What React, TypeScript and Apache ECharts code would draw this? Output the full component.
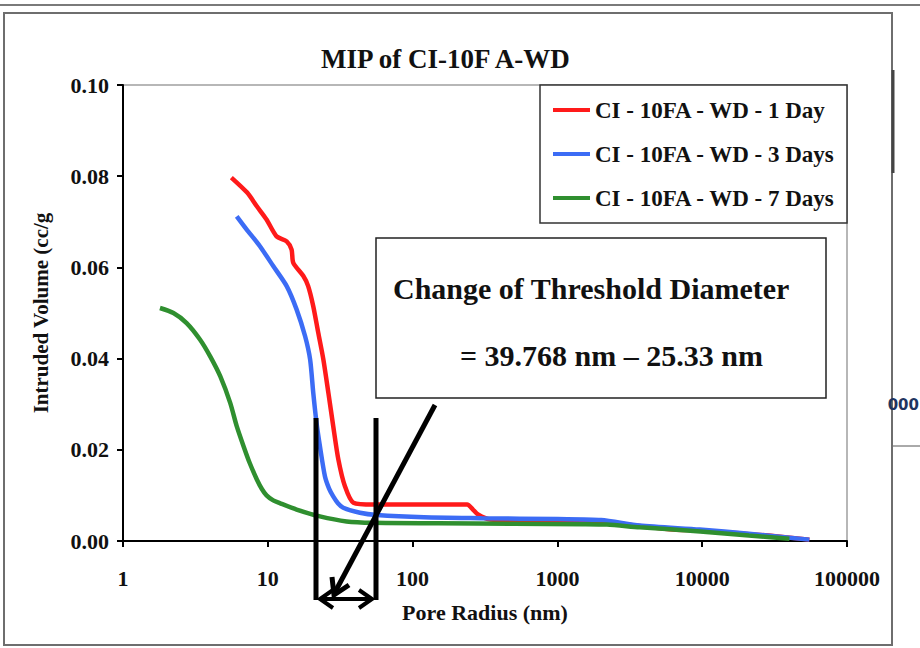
import React, { useEffect, useRef } from "react";
import * as echarts from "echarts";

const titleText = "MIP of CI-10F A-WD";
const xAxisName = "Pore Radius (nm)";
const yAxisName = "Intruded Volume (cc/g";
const seriesNames = ["CI - 10FA - WD - 1 Day", "CI - 10FA - WD - 3 Days", "CI - 10FA - WD - 7 Days"];
const seriesColors = ["#ff1a1a", "#3c6cf5", "#2f8f2f"];
const annotationLines = ["Change of Threshold Diameter", "= 39.768 nm \u2013 25.33 nm"];

const day1Radius = [5.6, 7.2, 8.4, 9.8, 11.5, 13.5, 14.6, 15.0, 17.6, 19.0, 20.6, 22.3, 24.2, 26.2, 28.3, 30.7, 34.1, 39.0, 53.5, 120, 238, 261, 283, 343, 600, 1000, 2000, 3700, 6300, 9700, 21000, 31000, 55000];
const day1Volume = [0.0797, 0.0764, 0.0734, 0.0705, 0.0668, 0.0657, 0.0639, 0.0610, 0.0581, 0.0559, 0.0515, 0.0457, 0.0398, 0.0325, 0.0252, 0.0179, 0.0120, 0.0084, 0.0080, 0.0080, 0.0080, 0.0069, 0.0058, 0.0047, 0.0045, 0.0043, 0.0042, 0.0033, 0.0025, 0.0023, 0.0015, 0.0011, 0.0003];

const day3Radius = [6.1, 7.15, 8.8, 10.9, 13.5, 15.8, 18.1, 19.6, 20.6, 21.7, 22.9, 24.8, 26.5, 28.3, 30.5, 33.2, 43.3, 56.5, 120, 300, 1000, 2000, 3700, 9600, 21000, 55000];
const day3Volume = [0.0712, 0.0683, 0.0647, 0.0603, 0.0559, 0.0508, 0.0449, 0.0398, 0.0325, 0.0259, 0.0208, 0.0142, 0.0115, 0.0098, 0.0083, 0.0073, 0.0062, 0.0057, 0.0052, 0.0050, 0.0048, 0.0046, 0.0034, 0.0025, 0.0016, 0.0003];

const day7Radius = [1.8, 2.23, 2.75, 3.4, 4.0, 4.7, 5.5, 6.1, 6.8, 7.5, 8.4, 9.1, 9.8, 10.9, 12.1, 15.8, 22.9, 35, 53.5, 150, 500, 1500, 2200, 3700, 9700, 21000, 40000];
const day7Volume = [0.0511, 0.0500, 0.0478, 0.0442, 0.0405, 0.0361, 0.0303, 0.0252, 0.0208, 0.0171, 0.0135, 0.0114, 0.0100, 0.0089, 0.0083, 0.0069, 0.0054, 0.0043, 0.0040, 0.0039, 0.0038, 0.0037, 0.0036, 0.0030, 0.0021, 0.0012, 0.0005];

const SERIF = "'Liberation Serif', 'Times New Roman', serif";

function pairs(xs: number[], ys: number[]) {
  return xs.map((x, i) => [x, ys[i]]);
}

export default function App() {
  const ref = useRef<HTMLDivElement>(null);
  useEffect(() => {
    if (!ref.current) return;
    const chart = echarts.init(ref.current, undefined, { renderer: "svg" });
    const radii = [day1Radius, day3Radius, day7Radius];
    const vols = [day1Volume, day3Volume, day7Volume];
    const black = "#000";
    const option: any = {
      animation: false,
      backgroundColor: "#fff",
      title: {
        text: titleText,
        left: 316,
        top: 40,
        textStyle: { fontFamily: SERIF, fontWeight: "bold", fontSize: 27, color: "#111" },
      },
      grid: {
        left: 123,
        top: 85,
        right: 73,
        bottom: 107,
        show: true,
        borderColor: "#a0a0a0",
        borderWidth: 1.5,
        backgroundColor: "transparent",
      },
      legend: {
        orient: "vertical",
        left: 553,
        top: 98,
        padding: 0,
        icon: "rect",
        itemWidth: 37,
        itemHeight: 4,
        itemGap: 20,
        textStyle: { fontFamily: SERIF, fontWeight: "bold", fontSize: 23, lineHeight: 24, color: "#111" },
        data: seriesNames,
      },
      xAxis: {
        type: "log",
        logBase: 10,
        min: 1,
        max: 100000,
        name: xAxisName,
        nameLocation: "middle",
        nameGap: 60,
        nameTextStyle: { fontFamily: SERIF, fontWeight: "bold", fontSize: 22, color: "#111" },
        axisLine: { lineStyle: { color: black, width: 2 } },
        axisTick: { show: true, inside: false, length: 6, lineStyle: { color: black, width: 2 } },
        axisLabel: {
          margin: 26,
          fontFamily: SERIF,
          fontWeight: "bold",
          fontSize: 22,
          color: "#111",
          formatter: (v: number) => String(Math.round(v)),
        },
        splitLine: { show: false },
        minorTick: { show: false },
      },
      yAxis: {
        type: "value",
        min: 0,
        max: 0.1,
        interval: 0.02,
        name: yAxisName,
        nameLocation: "middle",
        nameGap: 72,
        nameRotate: 90,
        nameTextStyle: { fontFamily: SERIF, fontWeight: "bold", fontSize: 21, color: "#111" },
        axisLine: { show: true, lineStyle: { color: black, width: 2 } },
        axisTick: { show: true, inside: false, length: 6, lineStyle: { color: black, width: 2 } },
        axisLabel: {
          margin: 14,
          fontFamily: SERIF,
          fontWeight: "bold",
          fontSize: 22,
          color: "#111",
          formatter: (v: number) => v.toFixed(2),
        },
        splitLine: { show: false },
      },
      series: seriesNames.map((name, i) => ({
        name,
        type: "line",
        data: pairs(radii[i], vols[i]),
        symbol: "none",
        showSymbol: false,
        smooth: 0.25,
        color: seriesColors[i],
        itemStyle: { color: seriesColors[i] },
        lineStyle: { color: seriesColors[i], width: 4.5 },
        z: 2 + i,
      })),
      graphic: [
        { type: "line", shape: { x1: 0, y1: 5, x2: 920, y2: 5 }, style: { stroke: "#7a7a7a", lineWidth: 2 }, z: 0 },
        { type: "rect", shape: { x: 4, y: 13, width: 888, height: 632 }, style: { stroke: "#6e6e6e", lineWidth: 2, fill: "none" }, z: 0 },
        { type: "line", shape: { x1: 893, y1: 70, x2: 893, y2: 173 }, style: { stroke: "#444", lineWidth: 3 }, z: 0 },
        { type: "line", shape: { x1: 893, y1: 446, x2: 920, y2: 446 }, style: { stroke: "#555", lineWidth: 1 }, z: 0 },
        { type: "text", x: 919, y: 405, style: { text: "000", font: "bold 15px 'DejaVu Sans', sans-serif", fill: "#1f3560", align: "right", verticalAlign: "middle" }, z: 0 },
        { type: "rect", shape: { x: 540, y: 85, width: 307, height: 138 }, style: { stroke: "#333", lineWidth: 1.5, fill: "#fff" }, z: 1 },
        { type: "rect", shape: { x: 376, y: 238, width: 450, height: 160 }, style: { stroke: "#222", lineWidth: 1.5, fill: "#fff" }, z: 1 },
        { type: "text", x: 393, y: 288, style: { text: annotationLines[0], font: `bold 30px ${SERIF}`, fill: "#111", verticalAlign: "middle" }, z: 20 },
        { type: "text", x: 460, y: 355, style: { text: annotationLines[1], font: `bold 30px ${SERIF}`, fill: "#111", verticalAlign: "middle" }, z: 20 },
        // threshold markers
        { type: "line", shape: { x1: 316, y1: 418, x2: 316, y2: 600 }, style: { stroke: "#000", lineWidth: 5 }, z: 30 },
        { type: "line", shape: { x1: 376, y1: 418, x2: 376, y2: 600 }, style: { stroke: "#000", lineWidth: 5 }, z: 30 },
        { type: "line", shape: { x1: 320, y1: 599, x2: 372, y2: 599 }, style: { stroke: "#000", lineWidth: 4 }, z: 30 },
        { type: "polyline", shape: { points: [[333, 590], [320, 599], [333, 608]] }, style: { stroke: "#000", lineWidth: 4, fill: "none" }, z: 30 },
        { type: "polyline", shape: { points: [[359, 590], [372, 599], [359, 608]] }, style: { stroke: "#000", lineWidth: 4, fill: "none" }, z: 30 },
        { type: "line", shape: { x1: 435, y1: 405, x2: 334, y2: 594 }, style: { stroke: "#000", lineWidth: 5 }, z: 30 },
        { type: "polyline", shape: { points: [[332, 577], [334, 595], [349, 585]] }, style: { stroke: "#000", lineWidth: 5, fill: "none" }, z: 30 },
      ],
    };
    chart.setOption(option);
    return () => chart.dispose();
  }, []);
  return (
    <div
      ref={ref}
      style={{ position: "absolute", left: 0, top: 0, width: 920, height: 648, background: "#fff" }}
    />
  );
}
